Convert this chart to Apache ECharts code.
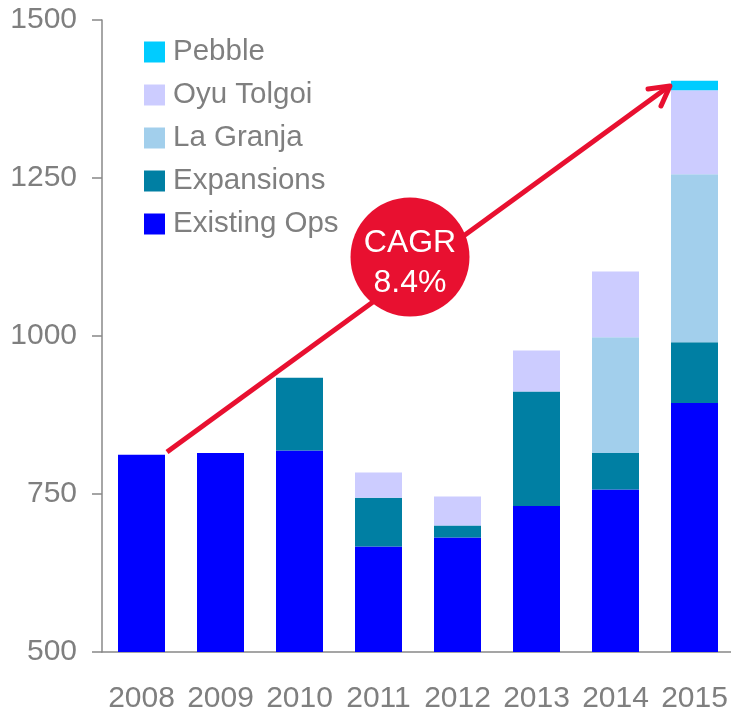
<!DOCTYPE html>
<html>
<head>
<meta charset="utf-8">
<script src="https://cdn.jsdelivr.net/npm/echarts@6/dist/echarts.min.js"></script>
<style>
  html, body { margin: 0; padding: 0; background: #fff; }
  #chart { width: 731px; height: 710px; }
</style>
</head>
<body>
<div id="chart"></div>
<script>
  var years = ['2008', '2009', '2010', '2011', '2012', '2013', '2014', '2015']
  var existingOps = [812, 815, 819, 667, 681, 731, 757, 894]
  var expansions = [null, null, 115, 77, 19, 181, 58, 96]
  var laGranja = [null, null, null, null, null, null, 183, 266]
  var oyuTolgoi = [null, null, null, 40, 46, 65, 104, 133]
  var pebble = [null, null, null, null, null, null, null, 15]
  var yTicks = [500, 750, 1000, 1250, 1500]

  var gray = '#7f7f7f'
  var red = '#e81030'
  var font = '"Liberation Sans", Arial, sans-serif'

  var chart = echarts.init(document.getElementById('chart'))

  function bar(name, data, color) {
    return {
      name: name,
      type: 'bar',
      stack: 'total',
      barWidth: 47,
      data: data,
      itemStyle: { color: color },
      emphasis: { disabled: true }
    }
  }

  chart.setOption({
    animation: false,
    textStyle: { fontFamily: font },
    grid: { left: 102, width: 632, top: 20, bottom: 58, outerBoundsMode: 'none', containLabel: false },
    legend: {
      orient: 'vertical',
      left: 144,
      top: 37,
      padding: 0,
      itemWidth: 21,
      itemHeight: 21,
      itemGap: 13,
      icon: 'rect',
      selectedMode: false,
      data: ['Pebble', 'Oyu Tolgoi', 'La Granja', 'Expansions', 'Existing Ops'],
      textStyle: { color: gray, fontSize: 29.5, padding: [0, 0, 0, 3], fontFamily: font }
    },
    xAxis: {
      type: 'category',
      data: years,
      axisLine: { lineStyle: { color: '#888', width: 1.5 } },
      axisTick: { length: 10, lineStyle: { color: '#888', width: 1.5 } },
      axisLabel: { color: gray, fontSize: 30, margin: 32, interval: 0, fontFamily: font }
    },
    yAxis: {
      type: 'value',
      min: yTicks[0],
      max: yTicks[yTicks.length - 1],
      interval: 250,
      splitLine: { show: false },
      axisLine: { show: true, lineStyle: { color: '#888', width: 1.5 } },
      axisTick: { show: true, length: 10, lineStyle: { color: '#888', width: 1.5 } },
      axisLabel: {
        color: gray,
        fontSize: 30,
        margin: 25,
        fontFamily: font,
        formatter: function (v) { return String(v) }
      }
    },
    series: [
      bar('Existing Ops', existingOps, '#0000ff'),
      bar('Expansions', expansions, '#007fa3'),
      bar('La Granja', laGranja, '#a2cfec'),
      bar('Oyu Tolgoi', oyuTolgoi, '#ccccff'),
      bar('Pebble', pebble, '#00ccff')
    ],
    graphic: [
      {
        type: 'line',
        shape: { x1: 167, y1: 452, x2: 668, y2: 87 },
        style: { stroke: red, lineWidth: 5 },
        z: 10
      },
      {
        type: 'polyline',
        shape: { points: [[648, 89], [670, 86], [661, 106]] },
        style: { stroke: red, lineWidth: 5, fill: null, lineCap: 'round', lineJoin: 'round' },
        z: 10
      },
      {
        type: 'circle',
        shape: { cx: 410, cy: 257, r: 59.5 },
        style: { fill: red },
        z: 11
      },
      {
        type: 'text',
        x: 410,
        y: 263,
        style: {
          text: 'CAGR\n8.4%',
          fill: '#fff',
          fontSize: 32,
          lineHeight: 40,
          fontFamily: font,
          align: 'center',
          verticalAlign: 'middle'
        },
        z: 12
      }
    ]
  })
</script>
</body>
</html>
